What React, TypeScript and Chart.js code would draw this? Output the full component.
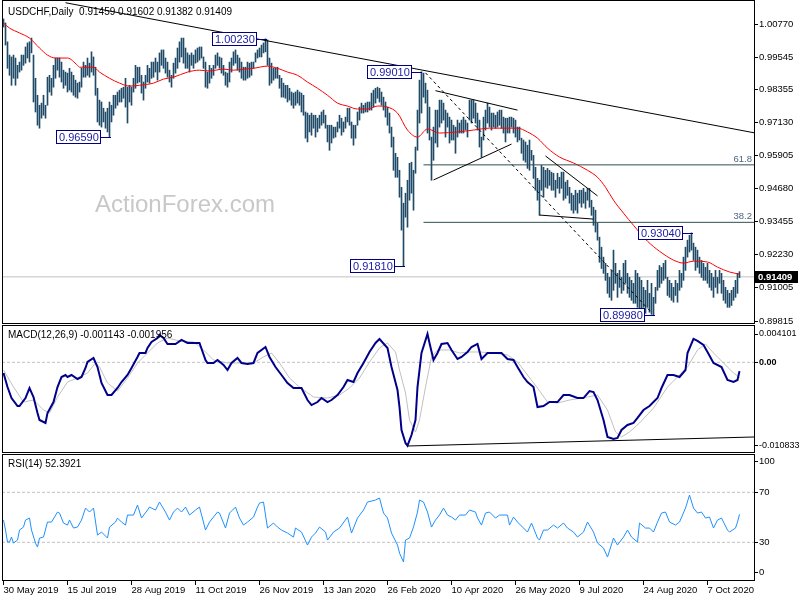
import React, { useEffect, useRef } from 'react';
import { Chart, registerables } from 'chart.js';

Chart.register(...registerables);

const FONT = "'Liberation Sans', Arial, Helvetica, sans-serif";

// ---------- price data (daily bars, index 0 = 30 May 2019) ----------
const highs = [
  1.0097, 1.0082, 1.0012, 0.9963, 0.9956, 0.9963, 0.9952, 0.9925, 0.9937, 0.9963,
  0.9963, 0.9993, 1.0008, 1.0012, 1.0026, 0.9963, 0.9877, 0.9814, 0.9777, 0.9785,
  0.9814, 0.9777, 0.9881, 0.9888, 0.9877, 0.9925, 0.9952, 0.9952, 0.9952, 0.9937,
  0.9907, 0.9900, 0.9896, 0.9914, 0.9900, 0.9888, 0.9870, 0.9859, 0.9863, 0.9914,
  0.9937, 0.9925, 0.9952, 0.9933, 0.9975, 0.9956, 0.9918, 0.9840, 0.9796, 0.9789,
  0.9766, 0.9752, 0.9766, 0.9789, 0.9777, 0.9814, 0.9814, 0.9826, 0.9833, 0.9840,
  0.9844, 0.9877, 0.9844, 0.9851, 0.9844, 0.9877, 0.9925, 0.9918, 0.9918, 0.9888,
  0.9863, 0.9888, 0.9925, 0.9914, 0.9937, 0.9937, 0.9952, 0.9937, 0.9971, 0.9982,
  0.9982, 0.9952, 0.9937, 0.9907, 0.9888, 0.9933, 0.9952, 0.9989, 1.0012, 1.0026,
  1.0026, 0.9989, 0.9971, 0.9963, 0.9971, 0.9963, 0.9982, 0.9989, 0.9993, 0.9993,
  0.9956, 0.9937, 0.9900, 0.9925, 0.9914, 0.9925, 0.9963, 0.9971, 0.9956, 0.9952,
  0.9925, 0.9900, 0.9896, 0.9937, 0.9952, 0.9975, 0.9982, 0.9963, 0.9952, 0.9937,
  0.9918, 0.9918, 0.9937, 0.9933, 0.9937, 0.9937, 0.9971, 0.9982, 0.9989, 1.0000,
  1.0008, 1.0023, 1.0019, 0.9952, 0.9933, 0.9914, 0.9914, 0.9918, 0.9888, 0.9877,
  0.9859, 0.9851, 0.9851, 0.9840, 0.9826, 0.9822, 0.9826, 0.9833, 0.9826, 0.9822,
  0.9814, 0.9752, 0.9748, 0.9740, 0.9748, 0.9740, 0.9740, 0.9729, 0.9740, 0.9752,
  0.9759, 0.9740, 0.9703, 0.9703, 0.9703, 0.9696, 0.9696, 0.9715, 0.9740, 0.9729,
  0.9715, 0.9733, 0.9766, 0.9766, 0.9715, 0.9703, 0.9703, 0.9752, 0.9770, 0.9785,
  0.9777, 0.9785, 0.9789, 0.9789, 0.9822, 0.9833, 0.9840, 0.9844, 0.9840, 0.9826,
  0.9807, 0.9789, 0.9770, 0.9748, 0.9696, 0.9659, 0.9599, 0.9584, 0.9536, 0.9473,
  0.9414, 0.9451, 0.9499, 0.9562, 0.9566, 0.9536, 0.9622, 0.9759, 0.9870, 0.9901,
  0.9896, 0.9859, 0.9833, 0.9770, 0.9659, 0.9696, 0.9759, 0.9759, 0.9796, 0.9796,
  0.9785, 0.9759, 0.9748, 0.9733, 0.9722, 0.9703, 0.9696, 0.9722, 0.9711, 0.9722,
  0.9733, 0.9722, 0.9711, 0.9796, 0.9796, 0.9796, 0.9785, 0.9748, 0.9722, 0.9659,
  0.9733, 0.9759, 0.9785, 0.9770, 0.9748, 0.9748, 0.9740, 0.9752, 0.9759, 0.9759,
  0.9733, 0.9729, 0.9729, 0.9733, 0.9733, 0.9729, 0.9722, 0.9696, 0.9696, 0.9655,
  0.9648, 0.9641, 0.9629, 0.9648, 0.9610, 0.9591, 0.9547, 0.9506, 0.9499, 0.9554,
  0.9547, 0.9536, 0.9543, 0.9536, 0.9529, 0.9525, 0.9499, 0.9525, 0.9510, 0.9529,
  0.9529, 0.9492, 0.9499, 0.9473, 0.9451, 0.9443, 0.9462, 0.9451, 0.9462, 0.9462,
  0.9469, 0.9455, 0.9469, 0.9469, 0.9425, 0.9399, 0.9388, 0.9340, 0.9288, 0.9251,
  0.9214, 0.9191, 0.9154, 0.9139, 0.9165, 0.9240, 0.9191, 0.9154, 0.9165, 0.9139,
  0.9191, 0.9202, 0.9154, 0.9139, 0.9128, 0.9117, 0.9165, 0.9154, 0.9139, 0.9128,
  0.9102, 0.9091, 0.9128, 0.9080, 0.9117, 0.9065, 0.9102, 0.9165, 0.9183, 0.9176,
  0.9191, 0.9202, 0.9139, 0.9128, 0.9117, 0.9102, 0.9128, 0.9117, 0.9165, 0.9154,
  0.9214, 0.9251, 0.9277, 0.9295, 0.9304, 0.9266, 0.9251, 0.9240, 0.9214, 0.9202,
  0.9191, 0.9176, 0.9191, 0.9165, 0.9154, 0.9139, 0.9165, 0.9139, 0.9165, 0.9154,
  0.9128, 0.9102, 0.9091, 0.9080, 0.9091, 0.9102, 0.9128, 0.9154, 0.91602,
];
const lows = [
  1.0067, 1.0000, 0.9914, 0.9888, 0.9851, 0.9877, 0.9851, 0.9877, 0.9900, 0.9907,
  0.9925, 0.9933, 0.9952, 0.9937, 0.9971, 0.9789, 0.9752, 0.9703, 0.9692, 0.9729,
  0.9740, 0.9729, 0.9777, 0.9826, 0.9814, 0.9844, 0.9877, 0.9907, 0.9881, 0.9863,
  0.9840, 0.9851, 0.9826, 0.9833, 0.9826, 0.9814, 0.9807, 0.9803, 0.9826, 0.9844,
  0.9881, 0.9881, 0.9888, 0.9881, 0.9900, 0.9888, 0.9814, 0.9715, 0.9703, 0.9696,
  0.9715, 0.9692, 0.9678, 0.9659, 0.9715, 0.9740, 0.9766, 0.9777, 0.9789, 0.9789,
  0.9803, 0.9770, 0.9711, 0.9789, 0.9777, 0.9826, 0.9840, 0.9859, 0.9863, 0.9822,
  0.9796, 0.9840, 0.9863, 0.9859, 0.9877, 0.9881, 0.9900, 0.9870, 0.9900, 0.9925,
  0.9914, 0.9896, 0.9881, 0.9863, 0.9844, 0.9877, 0.9896, 0.9914, 0.9937, 0.9956,
  0.9933, 0.9914, 0.9914, 0.9900, 0.9925, 0.9914, 0.9933, 0.9937, 0.9944, 0.9952,
  0.9914, 0.9844, 0.9840, 0.9859, 0.9877, 0.9888, 0.9914, 0.9925, 0.9914, 0.9896,
  0.9888, 0.9851, 0.9844, 0.9863, 0.9900, 0.9925, 0.9933, 0.9907, 0.9900, 0.9877,
  0.9870, 0.9870, 0.9877, 0.9881, 0.9888, 0.9914, 0.9937, 0.9952, 0.9956, 0.9956,
  0.9971, 0.9975, 0.9925, 0.9851, 0.9859, 0.9870, 0.9877, 0.9877, 0.9840, 0.9807,
  0.9807, 0.9803, 0.9789, 0.9796, 0.9777, 0.9766, 0.9777, 0.9785, 0.9777, 0.9752,
  0.9740, 0.9655, 0.9641, 0.9678, 0.9666, 0.9692, 0.9659, 0.9678, 0.9692, 0.9703,
  0.9711, 0.9692, 0.9641, 0.9610, 0.9637, 0.9655, 0.9659, 0.9678, 0.9692, 0.9666,
  0.9678, 0.9692, 0.9715, 0.9703, 0.9655, 0.9629, 0.9655, 0.9703, 0.9722, 0.9748,
  0.9748, 0.9752, 0.9752, 0.9759, 0.9759, 0.9770, 0.9785, 0.9803, 0.9789, 0.9777,
  0.9759, 0.9733, 0.9703, 0.9674, 0.9622, 0.9536, 0.9510, 0.9510, 0.9436, 0.9314,
  0.9181, 0.9362, 0.9325, 0.9425, 0.9451, 0.9388, 0.9525, 0.9610, 0.9711, 0.9748,
  0.9807, 0.9785, 0.9674, 0.9648, 0.9499, 0.9573, 0.9637, 0.9622, 0.9696, 0.9711,
  0.9722, 0.9659, 0.9696, 0.9637, 0.9648, 0.9648, 0.9599, 0.9659, 0.9674, 0.9674,
  0.9674, 0.9685, 0.9659, 0.9722, 0.9711, 0.9729, 0.9711, 0.9685, 0.9622, 0.9584,
  0.9648, 0.9685, 0.9711, 0.9696, 0.9685, 0.9696, 0.9692, 0.9696, 0.9703, 0.9692,
  0.9674, 0.9641, 0.9674, 0.9674, 0.9696, 0.9674, 0.9659, 0.9641, 0.9648, 0.9599,
  0.9573, 0.9566, 0.9543, 0.9536, 0.9573, 0.9506, 0.9462, 0.9425, 0.9369, 0.9462,
  0.9436, 0.9473, 0.9469, 0.9480, 0.9462, 0.9462, 0.9436, 0.9469, 0.9451, 0.9469,
  0.9425, 0.9432, 0.9443, 0.9414, 0.9388, 0.9377, 0.9388, 0.9377, 0.9414, 0.9399,
  0.9414, 0.9395, 0.9425, 0.9399, 0.9369, 0.9332, 0.9307, 0.9277, 0.9195, 0.9172,
  0.9154, 0.9128, 0.9080, 0.9065, 0.9054, 0.9091, 0.9117, 0.9065, 0.9102, 0.9080,
  0.9091, 0.9117, 0.9080, 0.9065, 0.9054, 0.9043, 0.9043, 0.9028, 0.9017, 0.9006,
  0.9028, 0.9006, 0.9028, 0.9010, 0.9002, 0.8998, 0.9043, 0.9091, 0.9102, 0.9117,
  0.9128, 0.9135, 0.9072, 0.9065, 0.9054, 0.9047, 0.9072, 0.9047, 0.9091, 0.9102,
  0.9128, 0.9165, 0.9214, 0.9233, 0.9240, 0.9202, 0.9165, 0.9176, 0.9154, 0.9139,
  0.9128, 0.9128, 0.9117, 0.9102, 0.9091, 0.9065, 0.9102, 0.9080, 0.9117, 0.9080,
  0.9054, 0.9043, 0.9028, 0.9028, 0.9035, 0.9054, 0.9065, 0.9080, 0.91382,
];
const lastOHLC = [0.91459, 0.91602, 0.91382, 0.91409];

// moving average (red)
const maIdx = [0, 3, 8, 13, 18, 22, 26, 32, 37, 38, 45, 48, 53, 58, 63, 68, 75, 80, 85, 92, 98, 103, 110, 115, 120, 125, 132, 137, 142, 147, 152, 157, 162, 167, 172, 177, 182, 187, 192, 197, 202, 207, 212, 218, 227, 235, 243, 252, 257, 262, 267, 272, 278, 285, 292, 297, 301, 305, 310, 315, 322, 328, 335, 340, 345, 352, 357, 363, 368];
const maVal = [1.0082, 1.0063, 1.0045, 1.0026, 0.9989, 0.9963, 0.9952, 0.9952, 0.9925, 0.9918, 0.9918, 0.9900, 0.9877, 0.9859, 0.9848, 0.9851, 0.9859, 0.9874, 0.9881, 0.9900, 0.9907, 0.9904, 0.9911, 0.9907, 0.9911, 0.9914, 0.9922, 0.9914, 0.9900, 0.9888, 0.9863, 0.9840, 0.9814, 0.9785, 0.9774, 0.9763, 0.9763, 0.9774, 0.9770, 0.9748, 0.9685, 0.9659, 0.9689, 0.9674, 0.9678, 0.9685, 0.9692, 0.9692, 0.9692, 0.9678, 0.9655, 0.9618, 0.9585, 0.9563, 0.9536, 0.9510, 0.9473, 0.9425, 0.9377, 0.9332, 0.9273, 0.9236, 0.9203, 0.9192, 0.9199, 0.9196, 0.9177, 0.9159, 0.9151];

// labelled swing points
const peakIdx = [53, 131, 200, 209, 325, 344];
const peakVal = [0.9659, 1.0023, 0.9181, 0.9901, 0.8998, 0.9304];

// trend lines (bar index / price)
const resistIdx = [31, 375.25];
const resistVal = [1.0157, 0.9675];
const dashIdx = [211, 324];
const dashVal = [0.9897, 0.9009];
const triUpIdx = [216, 257];
const triUpVal = [0.9831, 0.9759];
const triLoIdx = [215, 254];
const triLoVal = [0.95, 0.9633];
const wedgeUpIdx = [271, 297];
const wedgeUpVal = [0.9589, 0.9441];
const wedgeLoIdx = [268, 295];
const wedgeLoVal = [0.937, 0.9355];
const fibIdx = [210, 375.25];
const fibLevels = [0.9556, 0.9343];
const fibNames = ['61.8', '38.2'];

// price axis: tick positions and their labels (the window minimum label sits at the bottom edge)
const priceTickVals = [1.0077, 0.99545, 0.98355, 0.9713, 0.95905, 0.9468, 0.93455, 0.9223, 0.91005, 0.89747];
const priceTickLabels = ['1.00770', '0.99545', '0.98355', '0.97130', '0.95905', '0.94680', '0.93455', '0.92230', '0.91005', '0.89815'];

// MACD
const macdIdx = [0, 2, 4, 7, 8, 11, 13, 15, 17, 18, 21, 22, 25, 27, 29, 31, 32, 34, 37, 39, 41, 42, 45, 47, 49, 52, 54, 57, 59, 62, 64, 67, 68, 71, 72, 74, 77, 78, 80, 82, 86, 89, 92, 98, 101, 102, 105, 107, 110, 112, 114, 117, 119, 122, 125, 127, 131, 133, 136, 139, 142, 145, 149, 152, 154, 157, 159, 162, 164, 167, 170, 172, 175, 177, 180, 183, 186, 188, 192, 194, 197, 198, 199, 201, 202, 204, 206, 207, 209, 212, 213, 215, 217, 219, 222, 224, 227, 229, 232, 234, 237, 239, 242, 245, 249, 252, 255, 257, 260, 262, 265, 267, 270, 273, 277, 280, 283, 287, 290, 293, 295, 297, 300, 302, 305, 307, 309, 312, 315, 317, 320, 323, 327, 329, 332, 335, 338, 341, 342, 345, 347, 350, 352, 355, 359, 362, 365, 367, 368];
const macdVal = [-0.00139, -0.00321, -0.00464, -0.00568, -0.00568, -0.00464, -0.00334, -0.00451, -0.00659, -0.00749, -0.00788, -0.00659, -0.00516, -0.00321, -0.00191, -0.00165, -0.00191, -0.00165, -0.00217, -0.00191, -0.00074, 0.00004, 0.00056, -0.00061, -0.00269, -0.00425, -0.00425, -0.00334, -0.00256, -0.00165, -0.00074, 0.00069, 0.00121, 0.00121, 0.00186, 0.00264, 0.00316, 0.00355, 0.00316, 0.00238, 0.00238, 0.0029, 0.00251, 0.00251, 0.0003, -0.00009, -0.00009, 0.0003, -0.00035, -0.001, -0.00009, 0.00056, -0.00009, -0.00022, -0.00009, 0.00121, 0.00199, 0.00069, -0.00061, -0.00165, -0.00269, -0.00334, -0.00334, -0.0049, -0.00555, -0.00516, -0.00464, -0.00516, -0.0049, -0.00425, -0.00321, -0.0023, -0.00256, -0.00139, -0.00009, 0.00134, 0.00251, 0.00303, 0.00186, -0.00061, -0.0036, -0.00581, -0.00879, -0.01048, -0.01083, -0.00944, -0.00749, -0.00321, 0.00121, 0.00368, 0.00251, 0.0003, 0.00121, 0.00238, 0.00251, 0.0016, 0.00043, 0.00069, 0.00134, 0.00199, 0.00238, 0.00043, 0.00121, 0.00121, 0.00121, 0.00043, 0.0003, -0.00061, -0.00191, -0.00256, -0.00321, -0.00581, -0.00568, -0.00516, -0.00516, -0.00425, -0.00425, -0.00464, -0.00464, -0.00373, -0.00386, -0.0049, -0.00749, -0.0097, -0.00996, -0.00983, -0.00879, -0.00814, -0.00788, -0.00723, -0.0062, -0.00568, -0.00464, -0.00334, -0.00165, -0.00165, -0.00191, -0.001, 0.00121, 0.00303, 0.00277, 0.00225, 0.00134, -0.00009, -0.00061, -0.0023, -0.00256, -0.0023, -0.001143];
const sigIdx = [0, 5, 10, 15, 20, 23, 27, 32, 37, 42, 46, 48, 52, 57, 62, 67, 72, 77, 82, 88, 95, 100, 105, 112, 118, 125, 130, 134, 138, 143, 148, 155, 162, 168, 173, 178, 183, 188, 192, 196, 198, 201, 203, 206, 208, 211, 214, 217, 223, 228, 233, 238, 245, 252, 257, 262, 267, 272, 277, 283, 292, 297, 302, 306, 309, 313, 318, 325, 332, 337, 342, 347, 351, 355, 360, 365, 368];
const sigVal = [-0.001, -0.00321, -0.00516, -0.0049, -0.0062, -0.00659, -0.00451, -0.00256, -0.00204, -0.00139, -0.00009, -0.00061, -0.00269, -0.00373, -0.00204, -0.00009, 0.00121, 0.00251, 0.00316, 0.00277, 0.00264, 0.0016, 0.0003, -0.00009, -0.00009, -0.00009, 0.00069, 0.00121, -0.00009, -0.00204, -0.00321, -0.00451, -0.00464, -0.00425, -0.00334, -0.00204, 0.00004, 0.00186, 0.00251, 0.00134, -0.001, -0.00399, -0.00749, -0.00905, -0.00749, -0.00321, 0.00069, 0.0016, 0.0016, 0.00121, 0.00134, 0.00134, 0.00121, 0.00095, 0.00004, -0.00165, -0.00334, -0.00516, -0.00529, -0.0049, -0.00451, -0.00425, -0.0062, -0.00905, -0.0097, -0.00905, -0.00788, -0.00594, -0.00321, -0.00191, -0.00061, 0.0016, 0.00238, 0.00121, -0.00009, -0.00139, -0.001956];
const macdTrendIdx = [202, 375.25];
const macdTrendVal = [-0.01087, -0.0097];
// MACD axis: the window max/min labels are drawn just inside the panel edges
const macdTickVals = [0.003676, 0, -0.010833];
const macdTickLabels = ['0.004101', '0.00', '-0.010833'];

// RSI
const rsiIdx = [0, 1, 2, 3, 4, 5, 7, 8, 10, 11, 13, 14, 16, 17, 18, 20, 22, 24, 27, 28, 30, 32, 33, 35, 37, 39, 41, 43, 45, 47, 49, 52, 53, 56, 57, 59, 61, 62, 65, 67, 69, 72, 73, 76, 78, 81, 83, 85, 87, 89, 91, 93, 96, 98, 101, 103, 107, 108, 111, 113, 116, 118, 120, 122, 125, 127, 128, 130, 132, 135, 137, 139, 142, 145, 146, 149, 152, 154, 156, 158, 161, 162, 165, 168, 172, 174, 177, 180, 182, 186, 188, 190, 192, 194, 197, 198, 200, 201, 203, 205, 207, 208, 210, 212, 214, 216, 218, 220, 222, 224, 226, 228, 231, 233, 236, 237, 239, 241, 243, 246, 248, 252, 253, 255, 257, 260, 262, 264, 267, 268, 270, 272, 275, 277, 280, 282, 285, 287, 290, 292, 295, 297, 300, 302, 305, 307, 310, 312, 314, 317, 318, 321, 323, 325, 327, 329, 331, 333, 336, 338, 341, 343, 345, 347, 349, 351, 353, 355, 357, 359, 362, 363, 366, 367, 368];
const rsiVal = [47.8, 39.8, 30.2, 30.2, 34.2, 29.4, 31.8, 39.8, 42.2, 47.8, 49.4, 39.8, 29.4, 26.2, 33.4, 34.2, 46.2, 46.2, 54.2, 53.4, 45.4, 43.8, 47.8, 41.4, 42.2, 47.8, 57.4, 54.2, 57.4, 35.8, 38.2, 33.4, 42.2, 46.2, 49.4, 46.2, 43.8, 51.8, 51.8, 59.8, 49.4, 55.8, 58.2, 55.8, 62.2, 54.2, 47.8, 54.2, 57.4, 54.2, 58.2, 51.8, 55.8, 58.2, 39.8, 46.2, 54.2, 53.4, 41.4, 53.4, 58.2, 49.4, 43.8, 46.2, 50.2, 58.2, 61.4, 62.2, 41.4, 45.4, 42.2, 39.8, 37.4, 34.2, 41.4, 38.2, 27.8, 34.2, 37.4, 42.2, 38.2, 31.8, 38.2, 41.4, 50.2, 37.4, 49.4, 55.8, 62.2, 63.8, 65.4, 53.4, 49.4, 37.4, 27.8, 21.4, 14.2, 31.8, 33.4, 42.2, 54.2, 63.8, 62.2, 54.2, 42.2, 47.8, 51.8, 57.4, 51.8, 50.2, 47.8, 51.8, 51.8, 55.8, 54.2, 49.4, 43.8, 53.4, 54.2, 49.4, 51.8, 51.8, 43.8, 50.2, 46.2, 41.4, 38.2, 45.4, 33.4, 31.8, 39.8, 39.8, 43.8, 41.4, 45.4, 41.4, 38.2, 34.2, 38.2, 46.2, 38.2, 29.4, 25.4, 18.2, 33.4, 27.8, 34.2, 39.8, 34.2, 30.2, 45.4, 41.4, 41.4, 38.2, 46.2, 53.4, 54.2, 46.2, 43.8, 46.2, 57.4, 67.8, 57.4, 53.4, 54.2, 49.4, 50.2, 41.4, 47.8, 49.4, 39.8, 38.2, 41.4, 46.2, 52.3921];
const rsiLevels = [70, 30];
const rsiTickVals = [95.0, 70, 30, 5.7];
const rsiTickLabels = ['100', '70', '30', '0'];

// date axis
const dateIdx = [0, 32, 64, 96, 128, 160, 192, 224, 256, 288, 320, 352];
const dateLabels = ['30 May 2019', '15 Jul 2019', '28 Aug 2019', '11 Oct 2019', '26 Nov 2019', '13 Jan 2020', '26 Feb 2020', '10 Apr 2020', '26 May 2020', '9 Jul 2020', '24 Aug 2020', '7 Oct 2020'];

// ---------- layout constants ----------
const X_MIN = -0.75;
const X_MAX = 375.25;
const AXIS_W = 46;
const PRICE_MIN = 0.89662;
const PRICE_MAX = 1.01671;
const MACD_MIN = -0.01178;
const MACD_MAX = 0.004845;
const RSI_MIN = -0.96;
const RSI_MAX = 100.64;

const BAR_COLOR = '#1f4a68';

const pts = (xs: number[], ys: number[]) => xs.map((x, k) => ({ x, y: ys[k] }));
const lineDs = (data: any, color: string, width: number, order: number, dash: number[] = [], smooth = false): any => ({
  type: 'line',
  data,
  borderColor: color,
  borderWidth: width,
  borderDash: dash,
  pointRadius: 0,
  pointHoverRadius: 0,
  fill: false,
  order,
  tension: 0,
  cubicInterpolationMode: smooth ? 'monotone' : 'default',
});

const hiddenX: any = { type: 'linear', min: X_MIN, max: X_MAX, display: false, offset: false, grid: { offset: false } };

const rightAxis = (min: number, max: number, ticks: number[], labels: string[], size: number, boldZero = false): any => ({
  type: 'linear',
  position: 'right',
  min,
  max,
  afterBuildTicks: (s: any) => {
    s.ticks = ticks.map((v) => ({ value: v }));
  },
  afterFit: (s: any) => {
    s.width = AXIS_W;
    s.paddingTop = 0;
    s.paddingBottom = 0;
  },
  ticks: {
    autoSkip: false,
    padding: 1,
    color: '#000',
    font: (c: any) => ({ family: FONT, size, weight: boldZero && c.tick && c.tick.value === 0 ? 'bold' : 'normal' }),
    callback: (_v: any, k: number) => labels[k],
  },
  grid: { display: true, drawOnChartArea: false, drawTicks: true, tickLength: 4, color: '#000', lineWidth: 1 },
  border: { display: false },
});

const framePlugin = {
  id: 'frame',
  afterDraw(chart: any) {
    const { ctx, chartArea: a } = chart;
    ctx.save();
    ctx.strokeStyle = '#000';
    ctx.lineWidth = 1;
    ctx.strokeRect(Math.round(a.left) + 0.5, Math.round(a.top) + 0.5, Math.round(a.right - a.left), Math.round(a.bottom - a.top) - 1);
    ctx.restore();
  },
};

const headerPlugin = (text: string, y: number) => ({
  id: 'header',
  afterDraw(chart: any) {
    const ctx = chart.ctx;
    ctx.save();
    ctx.font = `10px ${FONT}`;
    ctx.fillStyle = '#000';
    ctx.textBaseline = 'middle';
    ctx.textAlign = 'left';
    ctx.fillText(text, 8, y);
    ctx.restore();
  },
});

const priceDecor = {
  id: 'priceDecor',
  beforeDatasetsDraw(chart: any) {
    const ctx = chart.ctx;
    ctx.save();
    ctx.font = `24px ${FONT}`;
    ctx.fillStyle = '#c8c8c8';
    ctx.textBaseline = 'middle';
    ctx.textAlign = 'left';
    ctx.fillText('ActionForex.com', 95, 205);
    ctx.restore();
  },
  afterDatasetsDraw(chart: any) {
    const { ctx, chartArea: a } = chart;
    const x = chart.scales.x;
    const y = chart.scales.y;
    ctx.save();
    // fibonacci level names
    ctx.font = `9.5px ${FONT}`;
    ctx.fillStyle = '#4d6680';
    ctx.textAlign = 'right';
    ctx.textBaseline = 'bottom';
    fibLevels.forEach((lv, k) => ctx.fillText(fibNames[k], a.right - 2, y.getPixelForValue(lv) - 1));
    // swing labels
    ctx.font = `11px ${FONT}`;
    peakIdx.forEach((i, k) => {
      const px = Math.round(x.getPixelForValue(i));
      const py = Math.round(y.getPixelForValue(peakVal[k]));
      const t = peakVal[k].toFixed(5);
      const tw = ctx.measureText(t).width;
      const bw = Math.round(tw + 5);
      const bh = 14;
      const bx = px - 9 - bw;
      const by = py - 7;
      ctx.fillStyle = '#fff';
      ctx.fillRect(bx, by, bw, bh);
      ctx.strokeStyle = '#000080';
      ctx.lineWidth = 1;
      ctx.strokeRect(bx + 0.5, by + 0.5, bw - 1, bh - 1);
      ctx.beginPath();
      ctx.moveTo(bx + bw, py + 0.5);
      ctx.lineTo(px + 1, py + 0.5);
      ctx.stroke();
      ctx.fillStyle = '#1a1aa8';
      ctx.textAlign = 'left';
      ctx.textBaseline = 'middle';
      ctx.fillText(t, bx + 3, py + 0.5);
    });
    ctx.restore();
  },
  afterDraw(chart: any) {
    const { ctx, chartArea: a } = chart;
    const y = chart.scales.y;
    const close = lastOHLC[3];
    const py = Math.round(y.getPixelForValue(close));
    ctx.save();
    ctx.fillStyle = '#000';
    ctx.fillRect(a.right + 1, py - 6, 43, 12);
    ctx.fillStyle = '#fff';
    ctx.font = `bold 9.5px ${FONT}`;
    ctx.textBaseline = 'middle';
    ctx.textAlign = 'left';
    ctx.fillText(close.toFixed(5), a.right + 4, py + 0.5);
    ctx.restore();
  },
};

function priceConfig(): any {
  const bars = highs.map((h, i) => ({ x: i, y: [lows[i], h] }));
  return {
    type: 'bar',
    data: {
      datasets: [
        lineDs(pts(resistIdx, resistVal), '#000', 1, 1),
        lineDs(pts(dashIdx, dashVal), '#000', 1, 1, [3, 3]),
        lineDs(pts(triUpIdx, triUpVal), '#000', 1, 1),
        lineDs(pts(triLoIdx, triLoVal), '#000', 1, 1),
        lineDs(pts(wedgeUpIdx, wedgeUpVal), '#000', 1, 1),
        lineDs(pts(wedgeLoIdx, wedgeLoVal), '#000', 1, 1),
        lineDs(pts(fibIdx, [fibLevels[0], fibLevels[0]]), '#2f4f4f', 1, 1),
        lineDs(pts(fibIdx, [fibLevels[1], fibLevels[1]]), '#2f4f4f', 1, 1),
        lineDs(pts(maIdx, maVal), '#ff0000', 1, 2, [], true),
        {
          type: 'bar',
          data: bars,
          backgroundColor: BAR_COLOR,
          borderWidth: 0,
          barThickness: 1,
          grouped: false,
          order: 5,
        },
        lineDs(pts([X_MIN, X_MAX], [lastOHLC[3], lastOHLC[3]]), '#c0c0c0', 1, 10),
      ],
    },
    options: {
      responsive: false,
      animation: false,
      devicePixelRatio: 1,
      events: [],
      layout: { padding: { left: 2, right: 0, top: 0, bottom: 0 } },
      plugins: { legend: { display: false }, tooltip: { enabled: false } },
      scales: {
        x: hiddenX,
        y: rightAxis(PRICE_MIN, PRICE_MAX, priceTickVals, priceTickLabels, 9.5),
      },
    },
    plugins: [priceDecor, framePlugin, headerPlugin(`USDCHF,Daily  ${lastOHLC.map((v) => v.toFixed(5)).join(' ')}`, 12)],
  };
}

function macdConfig(): any {
  return {
    type: 'line',
    data: {
      datasets: [
        lineDs(pts(macdTrendIdx, macdTrendVal), '#000', 1, 0),
        lineDs(pts(macdIdx, macdVal), '#00008b', 2, 1),
        lineDs(pts(sigIdx, sigVal), '#c0c0c0', 1, 2),
        lineDs(pts([X_MIN, X_MAX], [0, 0]), '#c0c0c0', 1, 3, [3, 2]),
      ],
    },
    options: {
      responsive: false,
      animation: false,
      devicePixelRatio: 1,
      events: [],
      layout: { padding: { left: 2, right: 0, top: 1, bottom: 1 } },
      plugins: { legend: { display: false }, tooltip: { enabled: false } },
      scales: {
        x: hiddenX,
        y: rightAxis(MACD_MIN, MACD_MAX, macdTickVals, macdTickLabels, 9, true),
      },
    },
    plugins: [framePlugin, headerPlugin(`MACD(12,26,9) ${macdVal[macdVal.length - 1].toFixed(6)} ${sigVal[sigVal.length - 1].toFixed(6)}`, 11)],
  };
}

function rsiConfig(): any {
  return {
    type: 'line',
    data: {
      datasets: [
        lineDs(pts(rsiIdx, rsiVal), '#1e90ff', 1, 1),
        lineDs(pts([X_MIN, X_MAX], [rsiLevels[0], rsiLevels[0]]), '#c0c0c0', 1, 3, [3, 2]),
        lineDs(pts([X_MIN, X_MAX], [rsiLevels[1], rsiLevels[1]]), '#c0c0c0', 1, 3, [3, 2]),
      ],
    },
    options: {
      responsive: false,
      animation: false,
      devicePixelRatio: 1,
      events: [],
      layout: { padding: { left: 2, right: 0, top: 0, bottom: 0 } },
      plugins: { legend: { display: false }, tooltip: { enabled: false } },
      scales: {
        x: {
          type: 'linear',
          position: 'bottom',
          min: X_MIN,
          max: X_MAX,
          offset: false,
          afterBuildTicks: (s: any) => {
            s.ticks = dateIdx.map((v) => ({ value: v }));
          },
          afterFit: (s: any) => {
            s.height = 19;
            s.paddingLeft = 0;
            s.paddingRight = 0;
          },
          ticks: {
            autoSkip: false,
            maxRotation: 0,
            minRotation: 0,
            align: 'start',
            padding: 0,
            color: '#000',
            font: { family: FONT, size: 9.5 },
            callback: (_v: any, k: number) => dateLabels[k],
          },
          grid: { display: true, drawOnChartArea: false, drawTicks: true, tickLength: 4, color: '#000', lineWidth: 1, offset: false },
          border: { display: false },
        },
        y: rightAxis(RSI_MIN, RSI_MAX, rsiTickVals, rsiTickLabels, 9.5),
      },
    },
    plugins: [framePlugin, headerPlugin(`RSI(14) ${rsiVal[rsiVal.length - 1].toFixed(4)}`, 10)],
  };
}

export default function App() {
  const r1 = useRef<HTMLCanvasElement>(null);
  const r2 = useRef<HTMLCanvasElement>(null);
  const r3 = useRef<HTMLCanvasElement>(null);

  useEffect(() => {
    const c1 = new Chart(r1.current as HTMLCanvasElement, priceConfig());
    const c2 = new Chart(r2.current as HTMLCanvasElement, macdConfig());
    const c3 = new Chart(r3.current as HTMLCanvasElement, rsiConfig());
    return () => {
      c1.destroy();
      c2.destroy();
      c3.destroy();
    };
  }, []);

  const cs: React.CSSProperties = { position: 'absolute', left: 0, display: 'block' };
  return (
    <div style={{ position: 'absolute', left: 0, top: 0, width: 800, height: 600, background: '#fff', overflow: 'hidden' }}>
      <canvas ref={r1} width={800} height={324} style={{ ...cs, top: 0 }} />
      <canvas ref={r2} width={800} height={130} style={{ ...cs, top: 324 }} />
      <canvas ref={r3} width={800} height={146} style={{ ...cs, top: 454 }} />
    </div>
  );
}
